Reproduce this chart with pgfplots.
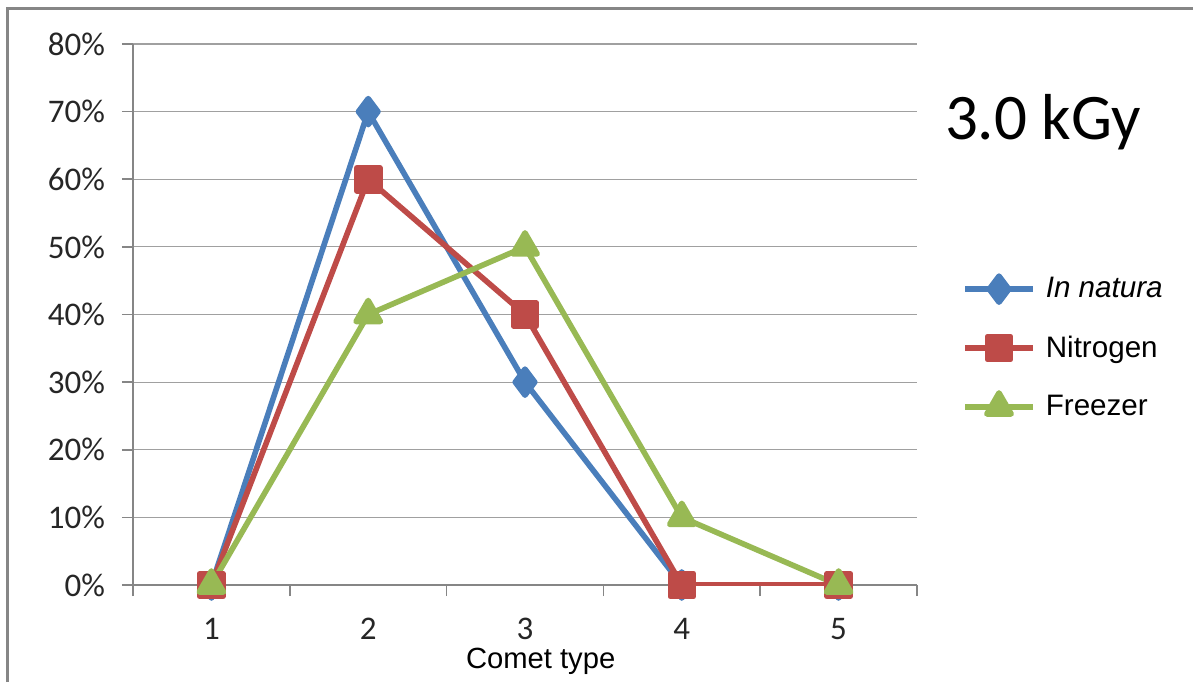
\documentclass[border=0pt]{standalone}
\usepackage{fontspec}
\setmainfont{Carlito}
\newfontfamily\arial{Liberation Sans}
\usepackage{pgfplots}
\pgfplotsset{compat=1.18}
\definecolor{cblue}{RGB}{74,126,187}
\definecolor{cred}{RGB}{190,75,72}
\definecolor{cgreen}{RGB}{152,185,84}
\definecolor{axgray}{RGB}{134,134,134}
\definecolor{gridgray}{RGB}{160,160,160}
\begin{document}
\begin{tikzpicture}
\useasboundingbox (-66.5pt,-48.5pt) rectangle (530pt,292.5pt);
\draw[color=axgray, line width=1.5pt] (-62.5pt,-48.5pt) -- (-62.5pt,288.5pt) -- (530pt,288.5pt);
\begin{axis}[
  at={(0pt,0pt)}, anchor=south west,
  scale only axis,
  width=392pt, height=270.5pt,
  xmin=0.5, xmax=5.5, ymin=0, ymax=80,
  axis lines*=left,
  axis line style={color=axgray, line width=0.8pt},
  xtick={0.5,1.5,...,5.5},
  xticklabels={},
  extra x ticks={1,2,3,4,5},
  extra x tick labels={1,2,3,4,5},
  extra x tick style={major tick length=0pt, grid=none},
  ytick={0,10,...,80},
  yticklabels={0\%,10\%,20\%,30\%,40\%,50\%,60\%,70\%,80\%},
  ymajorgrids,
  grid style={color=gridgray, line width=0.6pt},
  tick align=outside,
  major tick length=5.5pt,
  tick style={color=axgray, line width=0.8pt},
  tick label style={font=\fontsize{16.5}{18}\selectfont, color=black!85},
  yticklabel style={xshift=-5pt},
  xticklabel style={yshift=-13pt},
  xlabel={\arial Comet type},
  xlabel style={font=\fontsize{14.6}{16}\selectfont, at={(axis description cs:0.52,0)}, anchor=base, yshift=-41.5pt},
  legend style={at={(1.0495,0.438)}, anchor=west, draw=none, fill=none,
    font=\arial\fontsize{14.8}{16}\selectfont, row sep=13.5pt,
    legend cell align=left},
  legend image code/.code={%
    \draw[mark repeat=2,mark phase=2,#1] plot coordinates {(0pt,0pt)(17pt,0pt)(34pt,0pt)};
    \path (37pt,0pt);},
  every axis plot/.append style={line width=2.8pt, line join=round},
]
\addplot[color=cblue, mark=diamond*, mark size=6.5pt, mark options={solid}] coordinates {(1,0)(2,70)(3,30)(4,0)(5,0)};
\addplot[color=cred, mark=square*, mark size=5.75pt, mark options={solid}] coordinates {(1,0)(2,60)(3,40)(4,0)(5,0)};
\addplot[color=cgreen, mark=triangle*, mark size=7pt, mark options={solid}] coordinates {(1,0)(2,40)(3,50)(4,10)(5,0)};
\legend{\textit{In natura},Nitrogen,Freezer}
\end{axis}
\node[font=\fontsize{32.5}{34}\selectfont, anchor=center] at (455pt,231.5pt) {3.0 kGy};
\end{tikzpicture}
\end{document}
